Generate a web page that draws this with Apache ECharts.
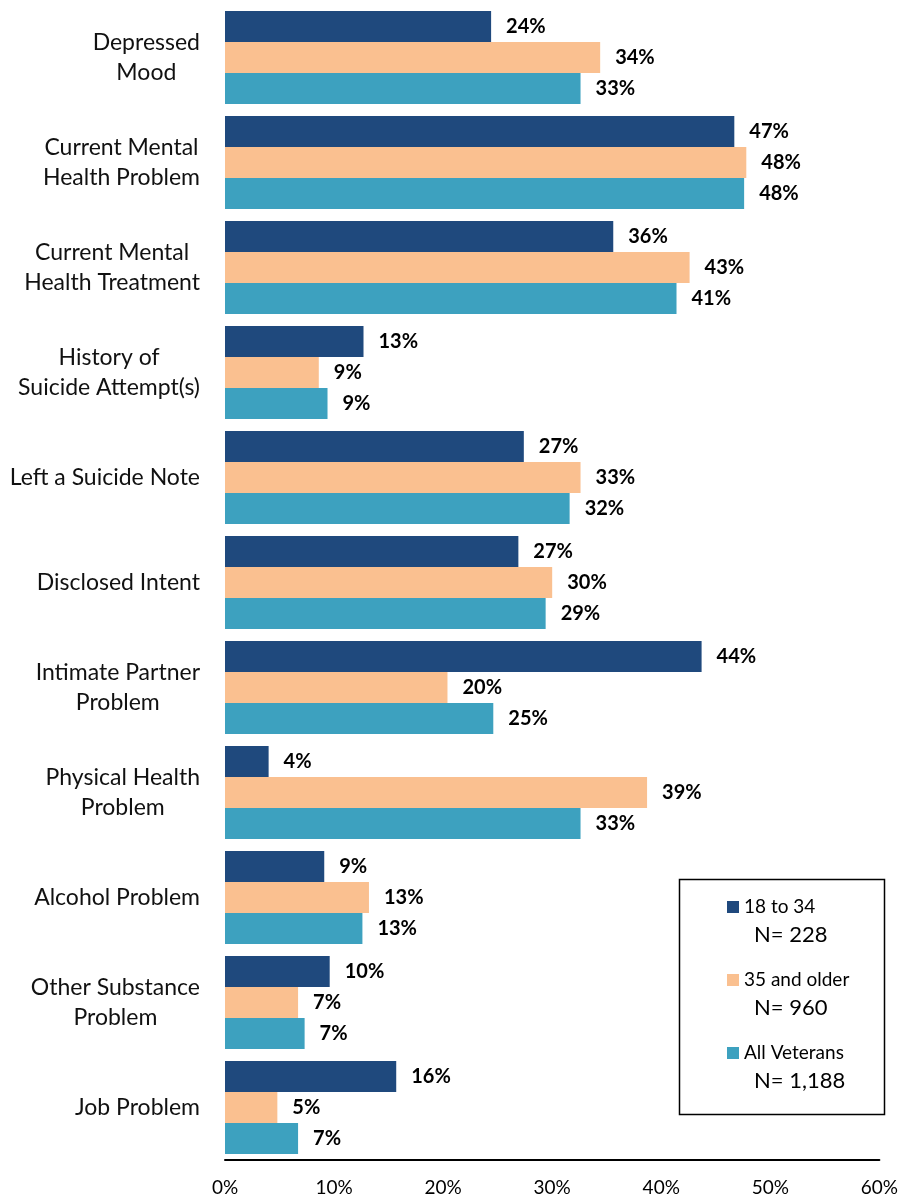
<!DOCTYPE html>
<html>
<head>
<meta charset="utf-8">
<script src="https://cdn.jsdelivr.net/npm/echarts@6/dist/echarts.min.js"></script>
<style>html,body{margin:0;padding:0;background:#fff;}#c{width:901px;height:1199px;}</style>
</head>
<body>
<div id="c"></div>
<script>
var categories = ['Depressed\nMood', 'Current Mental\nHealth Problem', 'Current Mental\nHealth Treatment',
  'History of\nSuicide Attempt(s)', 'Left a Suicide Note', 'Disclosed Intent', 'Intimate Partner\nProblem',
  'Physical Health\nProblem', 'Alcohol Problem', 'Other Substance\nProblem', 'Job Problem'];
var seriesNames = ['18 to 34', '35 and older', 'All Veterans'];
var sampleSizes = ['N= 228', 'N= 960', 'N= 1,188'];
var young = [24.4, 46.7, 35.6, 12.7, 27.4, 26.9, 43.7, 4.0, 9.1, 9.6, 15.7];
var older = [34.4, 47.8, 42.6, 8.6, 32.6, 30.0, 20.4, 38.7, 13.2, 6.7, 4.8];
var allVets = [32.6, 47.6, 41.4, 9.4, 31.6, 29.4, 24.6, 32.6, 12.6, 7.3, 6.7];
var xTicks = [0, 10, 20, 30, 40, 50, 60];

var colors = ['#1F497D', '#FAC090', '#3DA1BF'];
var FONT = 'Lato, "Open Sans", sans-serif';

function mk(name, data, color) {
  return {
    name: name, type: 'bar', data: data,
    barGap: '0%', barCategoryGap: '11.4%',
    itemStyle: { color: color },
    label: {
      show: true, position: 'right', distance: 15,
      fontFamily: FONT, fontWeight: 'bold', fontSize: 20, color: '#000',
      formatter: function (p) { return Math.round(p.value) + '%'; }
    }
  };
}

var chart = echarts.init(document.getElementById('c'));
var graphics = [{
  type: 'rect', left: 677, top: 877,
  shape: { width: 205, height: 235 },
  style: { fill: 'none', stroke: '#000', lineWidth: 1.5 }, z: 10
}];
sampleSizes.forEach(function (s, i) {
  graphics.push({
    type: 'text', left: 754, top: 924 + i * 73,
    style: { text: s, font: '22px ' + FONT, fill: '#000' }, z: 10
  });
});

chart.setOption({
  animation: false,
  color: colors,
  grid: { left: 225, right: 20, top: 5, bottom: 39, containLabel: false },
  xAxis: {
    type: 'value', min: 0, max: 60, interval: 10,
    axisLine: { show: true, lineStyle: { color: '#000', width: 2 } },
    axisTick: { show: false },
    splitLine: { show: false },
    axisLabel: {
      margin: 18, fontFamily: FONT, fontSize: 19, color: '#000',
      formatter: function (v) { return xTicks.indexOf(v) >= 0 ? v + '%' : ''; }
    }
  },
  yAxis: {
    type: 'category', data: categories, inverse: true,
    axisLine: { show: false }, axisTick: { show: false },
    axisLabel: {
      margin: 25, align: 'right',
      formatter: function (v) {
        return v.split('\n').map(function (l) { return '{c|' + l + '}'; }).join('\n');
      },
      rich: {
        c: { align: 'center', fontFamily: FONT, fontSize: 23, color: '#111', lineHeight: 30 }
      }
    }
  },
  legend: {
    orient: 'vertical', left: 727, top: 897, padding: 0,
    data: seriesNames,
    itemWidth: 12, itemHeight: 12, itemGap: 53,
    icon: 'rect',
    textStyle: { fontFamily: FONT, fontSize: 19, color: '#000', lineHeight: 20 }
  },
  graphic: graphics,
  series: [mk(seriesNames[0], young, colors[0]), mk(seriesNames[1], older, colors[1]), mk(seriesNames[2], allVets, colors[2])]
});
</script>
</body>
</html>
